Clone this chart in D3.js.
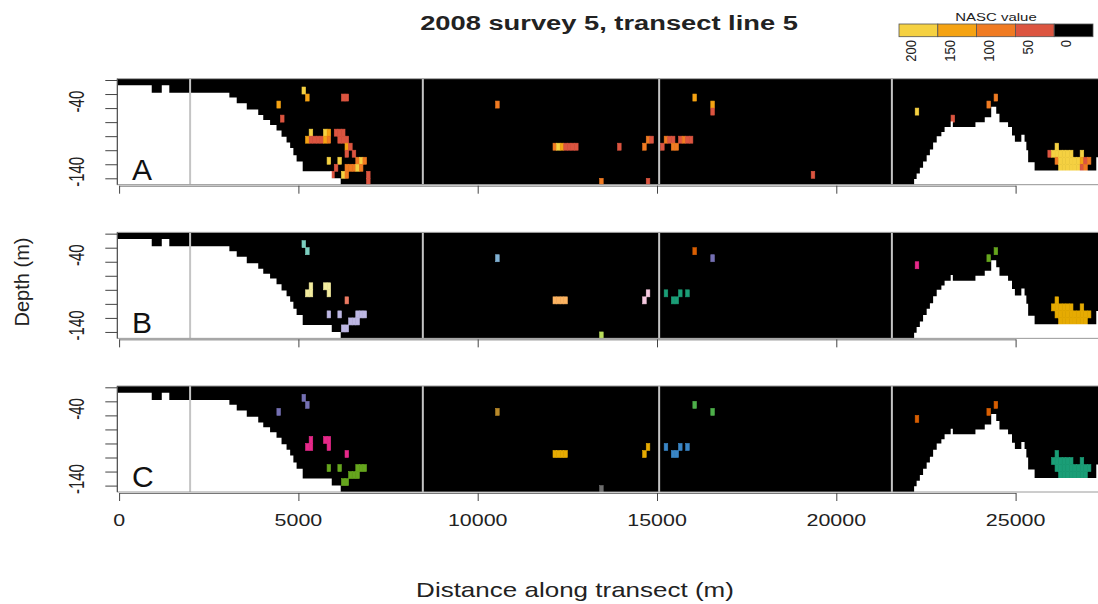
<!DOCTYPE html>
<html>
<head>
<meta charset="utf-8">
<script src="https://cdn.jsdelivr.net/npm/d3@7"></script>
<style>
  body { margin: 0; background: #fff; }
  svg text { font-family: "Liberation Sans", Arial, sans-serif; fill: #222; }
</style>
</head>
<body>
<svg id="chart" width="1098" height="604"></svg>
<script>
// ---- data -------------------------------------------------------------
const chartTitle = "2008 survey 5, transect line 5";
const panelLetters = ["A", "B", "C"];
const xTicks = [0, 5000, 10000, 15000, 20000, 25000];
const depthTicks = [0, -20, -40, -60, -80, -100, -120, -140];
const depthLabels = [-40, -140];
const fileBreaks = [1980, 8470, 15060, 21550];   // boundaries between acoustic files (m)

// seabed depth (m) starting at each distance (m); -200 = below the echogram window
const seabed = [
  [-50, -7.6], [910, -18], [1190, -7.6], [1400, -18], [3075, -25], [3280, -33],
  [3560, -42], [3880, -50], [4020, -57], [4210, -64], [4390, -72], [4530, -81],
  [4670, -89], [4770, -97], [4860, -107], [4950, -116], [5120, -130], [5930, -140],
  [6180, -200],
  [22170, -141], [22240, -133], [22330, -125], [22420, -116], [22520, -107],
  [22610, -99], [22700, -89], [22800, -80], [22930, -74], [23020, -67],
  [23190, -59], [23250, -67], [23880, -60], [24140, -53], [24320, -38],
  [24460, -48], [24550, -60], [24790, -67], [24900, -79], [24980, -88],
  [25160, -78], [25250, -88], [25300, -100], [25350, -117], [25530, -129],
  [27250, -110], [27500, -110]
];

// NASC legend
const nascBreaks = [50, 100, 150, 200];
const nascColors = ["#000000", "#DC5540", "#F07B22", "#F5A313", "#F5D142"];
const legendLabels = ["200", "150", "100", "50", "0"];
const legendColors = ["#F5D142", "#F5A313", "#F07B22", "#DC5540", "#000000"];

// panel A: [distance (m), top of 10 m depth bin (m), NASC]
const nascCells = [
  [5100, -10, 210], [5200, -20, 160], [4400, -30, 160], [6200, -20, 60], [6300, -20, 60],
  [4500, -50, 60],
  [5300, -70, 210], [5700, -70, 210], [5800, -70, 160], [6000, -70, 60], [6100, -70, 60], [6200, -70, 60],
  [5200, -80, 160], [5300, -80, 60], [5400, -80, 60], [5500, -80, 60], [5600, -80, 60],
  [5700, -80, 160], [5800, -80, 110], [6100, -80, 60], [6200, -80, 60], [6300, -80, 60],
  [6300, -90, 160], [6400, -90, 60],
  [6300, -100, 60], [6500, -100, 60],
  [5800, -110, 210], [6100, -110, 210], [6600, -110, 110], [6700, -110, 210], [6800, -110, 110],
  [6000, -120, 60], [6300, -120, 110], [6400, -120, 110], [6500, -120, 110], [6600, -120, 210], [6700, -120, 110],
  [5900, -130, 60], [6200, -130, 210], [6300, -130, 110], [6900, -130, 60],
  [6900, -140, 60],
  [10500, -30, 110],
  [12100, -90, 110], [12200, -90, 210], [12300, -90, 160], [12400, -90, 60], [12500, -90, 60],
  [12600, -90, 60], [12700, -90, 60],
  [13900, -90, 60], [14600, -90, 110], [14700, -80, 110], [14800, -80, 60],
  [15100, -90, 60], [15200, -80, 110], [15300, -80, 60], [15400, -80, 60],
  [15400, -90, 110], [15500, -90, 110],
  [15600, -80, 60], [15700, -80, 110], [15800, -80, 60], [15900, -80, 60],
  [16000, -20, 160], [16500, -30, 160], [16500, -40, 60],
  [13400, -140, 110], [14700, -140, 60], [19300, -130, 60],
  [22200, -40, 210], [23200, -50, 60], [24200, -30, 110], [24400, -20, 110],
  [26100, -90, 210],
  [25900, -100, 60], [26000, -100, 210], [26100, -100, 210], [26200, -100, 210], [26300, -100, 210],
  [26400, -100, 210], [26500, -100, 210], [26800, -100, 210],
  [26100, -110, 110], [26200, -110, 210], [26300, -110, 210], [26400, -110, 210], [26500, -110, 210],
  [26600, -110, 210], [26700, -110, 210], [26800, -110, 160], [26900, -110, 60], [27000, -110, 110],
  [26200, -120, 210], [26300, -120, 210], [26400, -120, 210], [26500, -120, 210], [26600, -120, 210],
  [26700, -120, 210], [26800, -120, 60], [26900, -120, 110]
];

// the main school aggregation near 26 km (shared by panels B and C)
const schoolCells = [
  [26100, -90],
  [26000, -100], [26100, -100], [26200, -100], [26300, -100], [26400, -100], [26500, -100], [26800, -100],
  [26100, -110], [26200, -110], [26300, -110], [26400, -110], [26500, -110], [26600, -110],
  [26700, -110], [26800, -110], [26900, -110], [27000, -110],
  [26200, -120], [26300, -120], [26400, -120], [26500, -120], [26600, -120], [26700, -120],
  [26800, -120], [26900, -120]
];

// panel B: [distance, depth bin, cluster]
const clusterColorsB = ["#7CCFBF", "#F3EC9E", "#EC7A62", "#BDB7E3", "#80B1D3", "#FDB462",
                        "#F6C9DF", "#B8DC5A", "#1B9E77", "#D95F02", "#7570B3", "#E7298A",
                        "#66A61E", "#E6AB02"];
const clusterCellsB = [
  [5100, -10, 0], [5200, -20, 0],
  [5200, -80, 1], [5300, -70, 1], [5300, -80, 1], [5700, -70, 1], [5800, -70, 1], [5800, -80, 1],
  [6300, -90, 2],
  [5800, -110, 3], [6100, -110, 3], [6600, -110, 3], [6700, -110, 3], [6800, -110, 3],
  [6400, -120, 3], [6500, -120, 3], [6600, -120, 3], [6200, -130, 3], [6300, -130, 3],
  [10500, -30, 4],
  [12100, -90, 5], [12200, -90, 5], [12300, -90, 5], [12400, -90, 5],
  [14600, -90, 6], [14700, -80, 6],
  [13400, -140, 7],
  [15200, -80, 8], [15400, -90, 8], [15500, -90, 8], [15600, -80, 8], [15800, -80, 8],
  [16000, -20, 9], [16500, -30, 10],
  [22200, -40, 11], [24200, -30, 12], [24400, -20, 12]
].concat(schoolCells.map(c => [c[0], c[1], 13]));

// panel C: [distance, depth bin, cluster]
const clusterColorsC = ["#7570B3", "#E7298A", "#66A61E", "#B98A2A", "#E6AB02", "#3A86C6",
                        "#4DAF4A", "#6E6E6E", "#D95F02", "#1B9E77"];
const clusterCellsC = [
  [5100, -10, 0], [5200, -20, 0], [4400, -30, 0],
  [5200, -80, 1], [5300, -70, 1], [5300, -80, 1], [5700, -70, 1], [5800, -70, 1], [5800, -80, 1],
  [6300, -90, 1],
  [5800, -110, 2], [6100, -110, 2], [6600, -110, 2], [6700, -110, 2], [6800, -110, 2],
  [6400, -120, 2], [6500, -120, 2], [6600, -120, 2], [6200, -130, 2], [6300, -130, 2],
  [10500, -30, 3],
  [12100, -90, 4], [12200, -90, 4], [12300, -90, 4], [12400, -90, 4],
  [14600, -90, 4], [14700, -80, 4],
  [15200, -80, 5], [15400, -90, 5], [15500, -90, 5], [15600, -80, 5], [15800, -80, 5],
  [16000, -20, 6], [16500, -30, 6],
  [13400, -140, 7],
  [22200, -40, 8], [24200, -30, 8], [24400, -20, 8]
].concat(schoolCells.map(c => [c[0], c[1], 9]));

// ---- layout -------------------------------------------------------------
const svg = d3.select("#chart");
const W = 1098;
const panelTop0 = 78.7, panelStep = 153.65, panelH = 106;
const cellW = 100, cellH = 10;
const sx = 1.3;   // horizontal stretch of the plot lettering

const x = d3.scaleLinear().domain([0, 25000]).range([119.1, 1015.6]);
const xLeft = x(-50), xRight = W + 2;

const nascColor = d3.scaleThreshold().domain(nascBreaks).range(nascColors);

function addText(g, t, px, py, opts) {
  const o = Object.assign({ size: 16, anchor: "middle", rot: 0, weight: "normal", sx: sx }, opts || {});
  return g.append("text")
    .attr("transform", `translate(${px},${py}) scale(${o.sx},1) rotate(${o.rot})`)
    .attr("text-anchor", o.anchor)
    .attr("font-size", o.size)
    .attr("font-weight", o.weight)
    .text(t);
}

const panels = [
  { cells: nascCells, color: d => nascColor(d[2]) },
  { cells: clusterCellsB, color: d => clusterColorsB[d[2]] },
  { cells: clusterCellsC, color: d => clusterColorsC[d[2]] }
];

panels.forEach((p, i) => {
  const top = panelTop0 + i * panelStep;
  const bottom = top + panelH;
  const y = d3.scaleLinear().domain([0, -140]).range([top + 1.3, top + 99.6]);
  const g = svg.append("g");

  const clipId = "clip" + i;
  svg.append("clipPath").attr("id", clipId)
    .append("rect").attr("x", xLeft).attr("y", top).attr("width", xRight - xLeft).attr("height", panelH);

  const plot = g.append("g").attr("clip-path", `url(#${clipId})`);
  plot.append("rect").attr("x", xLeft).attr("y", top).attr("width", xRight - xLeft)
    .attr("height", panelH).attr("fill", "#000");

  // echo cells (a hairline stroke of the fill colour closes the seams between neighbours)
  plot.selectAll("rect.cell").data(p.cells).join("rect").attr("class", "cell")
    .attr("x", d => x(d[0]))
    .attr("y", d => y(d[1]))
    .attr("width", d => x(d[0] + cellW) - x(d[0]))
    .attr("height", d => y(d[1] - cellH) - y(d[1]))
    .attr("fill", p.color)
    .attr("stroke", p.color)
    .attr("stroke-width", 0.6);

  // seabed
  const area = d3.area().curve(d3.curveStepAfter)
    .x(d => x(d[0])).y0(bottom + 5).y1(d => Math.min(y(d[1]), bottom + 5));
  plot.append("path").datum(seabed).attr("d", area).attr("fill", "#fff");

  // file boundaries
  plot.selectAll("line.brk").data(fileBreaks).join("line").attr("class", "brk")
    .attr("x1", d => x(d)).attr("x2", d => x(d)).attr("y1", top).attr("y2", bottom)
    .attr("stroke", "#c4c4c4").attr("stroke-width", 2);

  // frame
  g.append("rect").attr("x", xLeft).attr("y", top).attr("width", xRight - xLeft).attr("height", panelH)
    .attr("fill", "none").attr("stroke", "#9a9a9a").attr("stroke-width", 1);

  // depth axis
  const ya = g.append("g").attr("transform", `translate(${xLeft},0)`)
    .call(d3.axisLeft(y).tickValues(depthTicks).tickSize(12).tickSizeOuter(0).tickFormat(""));
  ya.select(".domain").attr("stroke", "#444").attr("d", `M0,${top}V${bottom}`);
  ya.selectAll(".tick line").attr("stroke", "#444");
  depthLabels.forEach(v => addText(g, String(v), 76, y(v) - 6.5, { size: 15, rot: -90, sx: 1.5 })
    .attr("dominant-baseline", "central"));

  // distance axis
  const xa = g.append("g").attr("transform", `translate(0,${bottom + 1})`)
    .call(d3.axisBottom(x).tickValues(xTicks).tickSize(8).tickSizeOuter(0).tickFormat(""));
  xa.select(".domain").attr("stroke", "#777");
  xa.selectAll(".tick line").attr("stroke", "#444");
  if (i === 2) {
    xTicks.forEach(v => addText(g, String(v), x(v), bottom + 34, { size: 16.5 }));
  }

  // panel letter
  g.append("text").attr("x", 132).attr("y", top + 100.8)
    .attr("font-family", "'Liberation Serif', 'Times New Roman', serif")
    .attr("font-size", 30).style("fill", "#111").text(panelLetters[i]);
});

// titles
addText(svg, chartTitle, 609, 30, { size: 21, weight: "bold" });
addText(svg, "Distance along transect (m)", 575, 597, { size: 20 });
addText(svg, "Depth (m)", 29, 282, { size: 20, rot: -90, sx: 1.0 });

// NASC legend
const lg = svg.append("g");
const lx = d3.scaleBand().domain(legendLabels).range([899, 1093]);
lg.selectAll("rect").data(legendLabels).join("rect")
  .attr("x", d => lx(d)).attr("y", 24).attr("width", lx.bandwidth()).attr("height", 12.7)
  .attr("fill", (d, k) => legendColors[k]).attr("stroke", "#555").attr("stroke-width", 0.8);
addText(lg, "NASC value", 996, 21, { size: 11.5 });
legendLabels.forEach(d => addText(lg, d, lx(d) + lx.bandwidth() / 2 - 7, 40, { size: 13, rot: -90, anchor: "end", sx: 1.1 })
  .attr("dominant-baseline", "central"));
</script>
</body>
</html>
